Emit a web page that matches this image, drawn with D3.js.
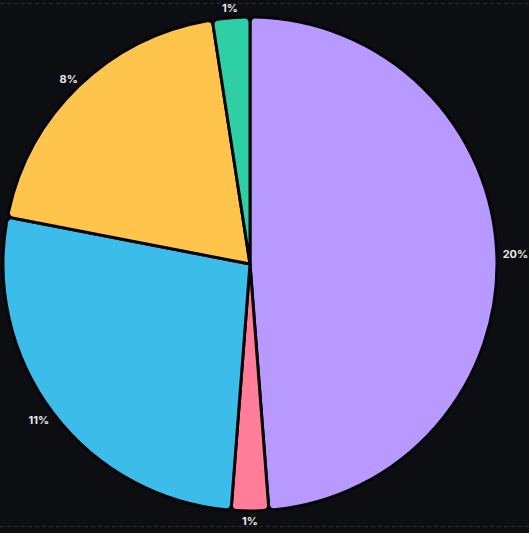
<!DOCTYPE html>
<html>
<head>
<meta charset="utf-8">
<script src="https://cdn.jsdelivr.net/npm/d3@7"></script>
<style>
  html, body { margin: 0; padding: 0; background: #0d0e11; }
  svg { display: block; }
</style>
</head>
<body>
<script>
// slice data, clockwise from 12 o'clock
var categories = ["A", "B", "C", "D", "E"];
var values = [20, 1, 11, 8, 1];
var labels = ["20%", "1%", "11%", "8%", "1%"];
var colors = ["#b899ff", "#ff7d98", "#3bbce9", "#ffc44c", "#2ecfa5"];

var width = 529, height = 533;
var cx = 250, cy = 264, radius = 247;

var svg = d3.select("body").append("svg")
    .attr("width", width)
    .attr("height", height);

// faint dashed rules top and bottom
svg.selectAll("line.rule")
    .data([3.5, 526.5])
    .enter()
    .append("line")
    .attr("class", "rule")
    .attr("x1", 0).attr("x2", width)
    .attr("y1", function(d) { return d; })
    .attr("y2", function(d) { return d; })
    .attr("stroke", "#2c2e35")
    .attr("stroke-dasharray", "4,3");

var pie = d3.pie().sort(null).value(function(d) { return d; });
var arcs = pie(values);

var arc = d3.arc()
    .innerRadius(0)
    .outerRadius(radius)
    .cornerRadius(5);

var g = svg.append("g").attr("transform", "translate(" + cx + "," + cy + ")");

g.selectAll("path")
    .data(arcs)
    .enter()
    .append("path")
    .attr("d", arc)
    .attr("fill", function(d, i) { return colors[i]; })
    .attr("stroke", "#060608")
    .attr("stroke-width", 3)
    .attr("stroke-linejoin", "round");

g.selectAll("text")
    .data(arcs)
    .enter()
    .append("text")
    .attr("transform", function(d, i) {
        var a = (d.startAngle + d.endAngle) / 2;
        var s = Math.sin(a), c = Math.cos(a);
        var halfW = labels[i].length * 4.2, halfH = 4;
        var x = s * (radius + 6) + s * halfW;
        var y = -c * (radius + 6) - c * halfH;
        return "translate(" + x + "," + y + ")";
    })
    .attr("text-anchor", "middle")
    .attr("dominant-baseline", "central")
    .style("font-family", "Inter, 'Open Sans', sans-serif")
    .style("font-size", "11px")
    .style("font-weight", "700")
    .attr("fill", "#e8e8ea")
    .text(function(d, i) { return labels[i]; });
</script>
</body>
</html>
